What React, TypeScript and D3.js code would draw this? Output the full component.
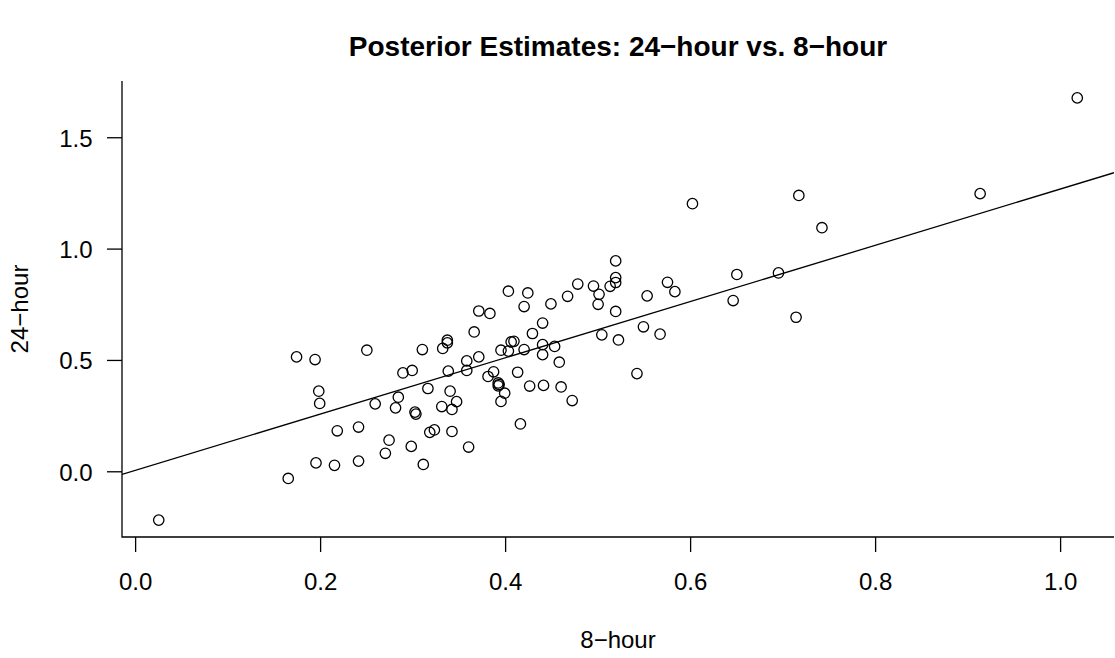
import React from "react";
import * as d3 from "d3";

// 8-hour posterior estimates (x) and 24-hour posterior estimates (y)
const hour8: number[] = [
  0.174, 0.194, 0.250, 0.310, 0.332, 0.337, 0.337, 0.289, 0.299, 0.338,
  0.198, 0.199, 0.259, 0.284, 0.281, 0.302, 0.303, 0.316, 0.340, 0.331,
  0.342, 0.347, 0.218, 0.241, 0.274, 0.270, 0.298, 0.318, 0.323, 0.342,
  0.195, 0.215, 0.241, 0.311, 0.165, 0.403, 0.424, 0.420, 0.449, 0.467,
  0.478, 0.371, 0.383, 0.366, 0.429, 0.440, 0.406, 0.409, 0.395, 0.403,
  0.420, 0.440, 0.440, 0.453, 0.371, 0.358, 0.358, 0.458, 0.387, 0.381,
  0.413, 0.392, 0.392, 0.393, 0.399, 0.395, 0.426, 0.441, 0.460, 0.472,
  0.416, 0.602, 0.717, 0.742, 0.519, 0.519, 0.519, 0.513, 0.495, 0.501,
  0.500, 0.575, 0.583, 0.553, 0.650, 0.695, 0.646, 0.714, 0.519, 0.549,
  0.567, 0.504, 0.522, 0.542, 0.913, 1.018, 0.025, 0.360,
];
const hour24: number[] = [
  0.516, 0.504, 0.546, 0.549, 0.554, 0.591, 0.579, 0.444, 0.455, 0.452,
  0.362, 0.307, 0.305, 0.335, 0.287, 0.268, 0.259, 0.374, 0.362, 0.293,
  0.280, 0.315, 0.184, 0.201, 0.142, 0.083, 0.114, 0.177, 0.188, 0.181,
  0.040, 0.029, 0.048, 0.033, -0.030, 0.811, 0.803, 0.742, 0.754, 0.788,
  0.843, 0.722, 0.711, 0.628, 0.621, 0.668, 0.583, 0.586, 0.546, 0.542,
  0.549, 0.571, 0.526, 0.563, 0.516, 0.498, 0.455, 0.492, 0.449, 0.428,
  0.447, 0.399, 0.386, 0.392, 0.353, 0.316, 0.385, 0.388, 0.381, 0.320,
  0.215, 1.204, 1.241, 1.096, 0.947, 0.872, 0.850, 0.833, 0.834, 0.797,
  0.752, 0.851, 0.809, 0.790, 0.886, 0.893, 0.769, 0.694, 0.720, 0.651,
  0.618, 0.615, 0.592, 0.441, 1.249, 1.679, -0.217, 0.111,
];

const xTicks: number[] = [0.0, 0.2, 0.4, 0.6, 0.8, 1.0];
const yTicks: number[] = [0.0, 0.5, 1.0, 1.5];

// fitted regression line
const lineIntercept = 0.007;
const lineSlope = 1.263;

const title = "Posterior Estimates: 24\u2212hour vs. 8\u2212hour";
const xLabel = "8\u2212hour";
const yLabel = "24\u2212hour";

const W = 1115;
const H = 658;
const plot = { left: 122, right: 1114, top: 81, bottom: 537 };
const FONT = "'Liberation Sans', Arial, Helvetica, sans-serif";

function padded(vals: number[]): [number, number] {
  const [lo, hi] = d3.extent(vals) as [number, number];
  const p = (hi - lo) * 0.04;
  return [lo - p, hi + p];
}

export default function App() {
  const xDom = padded(hour8);
  const yDom = padded(hour24);
  const x = d3.scaleLinear().domain(xDom).range([plot.left, plot.right]);
  const y = d3.scaleLinear().domain(yDom).range([plot.bottom, plot.top]);
  const tick = 15;
  const sw = 1.3;

  const lineGen = d3
    .line<number>()
    .x((v) => x(v))
    .y((v) => y(lineIntercept + lineSlope * v));

  const cx = (plot.left + plot.right) / 2;
  const cy = (plot.top + plot.bottom) / 2;

  return (
    <svg
      width={W}
      height={H}
      style={{ position: "absolute", left: 0, top: 0, background: "#fff" }}
      fontFamily={FONT}
    >
      <defs>
        <clipPath id="plotclip">
          <rect
            x={plot.left}
            y={plot.top}
            width={plot.right - plot.left}
            height={plot.bottom - plot.top}
          />
        </clipPath>
      </defs>
      <rect x={0} y={0} width={W} height={H} fill="#fff" />
      <text
        x={cx}
        y={56}
        textAnchor="middle"
        fontSize={28}
        fontWeight="bold"
        fill="#000"
      >
        {title}
      </text>

      {/* L-shaped box */}
      <path
        d={`M${plot.left},${plot.top}V${plot.bottom}H${plot.right}`}
        fill="none"
        stroke="#000"
        strokeWidth={sw}
      />

      {/* x axis */}
      {xTicks.map((t) => (
        <g key={"x" + t}>
          <line
            x1={x(t)}
            x2={x(t)}
            y1={plot.bottom}
            y2={plot.bottom + tick}
            stroke="#000"
            strokeWidth={sw}
          />
          <text x={x(t)} y={590} textAnchor="middle" fontSize={24} fill="#000">
            {d3.format(".1f")(t)}
          </text>
        </g>
      ))}
      {/* y axis */}
      {yTicks.map((t) => (
        <g key={"y" + t}>
          <line
            x1={plot.left - tick}
            x2={plot.left}
            y1={y(t)}
            y2={y(t)}
            stroke="#000"
            strokeWidth={sw}
          />
          <text
            x={92.5}
            y={y(t) + 9}
            textAnchor="end"
            fontSize={24}
            fill="#000"
          >
            {d3.format(".1f")(t)}
          </text>
        </g>
      ))}

      <text x={cx} y={648} textAnchor="middle" fontSize={24} fill="#000">
        {xLabel}
      </text>
      <text
        transform={`translate(28,${cy}) rotate(-90)`}
        textAnchor="middle"
        fontSize={24}
        fill="#000"
      >
        {yLabel}
      </text>

      <g clipPath="url(#plotclip)">
        <path
          d={lineGen([xDom[0], xDom[1]]) || ""}
          fill="none"
          stroke="#000"
          strokeWidth={sw}
        />
        {hour8.map((v, i) => (
          <circle
            key={i}
            cx={x(v)}
            cy={y(hour24[i])}
            r={5.2}
            fill="none"
            stroke="#000"
            strokeWidth={sw}
          />
        ))}
      </g>
    </svg>
  );
}
